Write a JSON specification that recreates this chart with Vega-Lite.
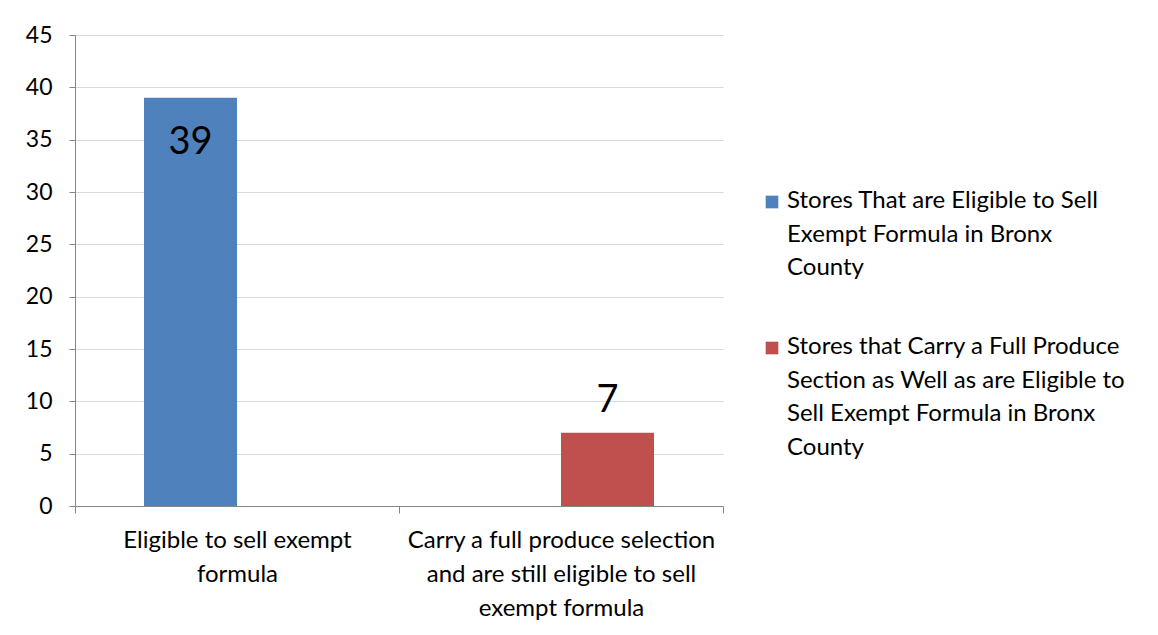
{
  "$schema": "https://vega.github.io/schema/vega-lite/v6.json",
  "width": 648,
  "height": 471,
  "autosize": {"type": "none"},
  "padding": {"left": 75, "top": 35, "right": 435, "bottom": 129},
  "background": "white",
  "config": {
    "font": "Lato",
    "view": {"stroke": null},
    "axis": {"labelFont": "Lato", "labelFontSize": 23, "labelColor": "#000000", "domainColor": "#868686", "tickColor": "#868686"},
    "legend": {"labelFont": "Lato", "labelFontSize": 24, "labelColor": "#000000"}
  },
  "data": {
    "values": [
      {"category": "Eligible to sell exempt formula", "series": "Stores That are Eligible to Sell Exempt Formula in Bronx County", "value": 39},
      {"category": "Carry a full produce selection and are still eligible to sell exempt formula", "series": "Stores that Carry a Full Produce Section as Well as are Eligible to Sell Exempt Formula in Bronx County", "value": 7}
    ]
  },
  "encoding": {
    "x": {
      "field": "category",
      "type": "nominal",
      "sort": null,
      "scale": {"paddingInner": 0, "paddingOuter": 0},
      "axis": {
        "title": null,
        "labelAngle": 0,
        "tickBand": "extent",
        "tickSize": 7,
        "labelPadding": 15,
        "labelBaseline": "top",
        "labelLineHeight": 34,
        "labelFontSize": 24,
        "labelLimit": 0,
        "labelExpr": "datum.extra ? '' : datum.label == 'Eligible to sell exempt formula' ? ['Eligible to sell exempt', 'formula'] : ['Carry a full produce selection', 'and are still eligible to sell', 'exempt formula']"
      }
    },
    "xOffset": {
      "field": "series",
      "type": "nominal",
      "scale": {
        "domain": ["Stores That are Eligible to Sell Exempt Formula in Bronx County", "Stores that Carry a Full Produce Section as Well as are Eligible to Sell Exempt Formula in Bronx County"],
        "paddingInner": 0,
        "paddingOuter": 0.742
      }
    },
    "y": {
      "field": "value",
      "type": "quantitative",
      "scale": {"domain": [0, 45]},
      "axis": {
        "title": null,
        "values": [0, 5, 10, 15, 20, 25, 30, 35, 40, 45],
        "gridColor": "#d9d9d9",
        "tickSize": 6,
        "labelPadding": 17
      }
    }
  },
  "layer": [
    {
      "mark": {"type": "bar"},
      "encoding": {
        "color": {
          "field": "series",
          "type": "nominal",
          "scale": {
            "domain": ["Stores That are Eligible to Sell Exempt Formula in Bronx County", "Stores that Carry a Full Produce Section as Well as are Eligible to Sell Exempt Formula in Bronx County"],
            "range": ["#4f81bd", "#c0504d"]
          },
          "legend": {
            "title": null,
            "orient": "none",
            "legendX": 685,
            "legendY": 155,
            "symbolType": "square",
            "symbolSize": 160,
            "symbolStrokeWidth": 0,
            "labelOffset": 3,
            "labelLimit": 0,
            "rowPadding": 55,
            "labelBaseline": "top",
            "labelExpr": "datum.label == 'Stores That are Eligible to Sell Exempt Formula in Bronx County' ? ['Stores That are Eligible to Sell', 'Exempt Formula in Bronx', 'County'] : ['Stores that Carry a Full Produce', 'Section as Well as are Eligible to', 'Sell Exempt Formula in Bronx', 'County']",
            "encode": {"labels": {"update": {"lineHeight": {"value": 33.5}, "dy": {"value": -13}}}}
          }
        }
      }
    },
    {
      "transform": [{"filter": "datum.value > 20"}],
      "mark": {"type": "text", "fontSize": 38, "dy": 45, "color": "#000000"},
      "encoding": {"text": {"field": "value", "type": "quantitative"}}
    },
    {
      "transform": [{"filter": "datum.value <= 20"}],
      "mark": {"type": "text", "fontSize": 38, "dy": -32, "color": "#000000"},
      "encoding": {"text": {"field": "value", "type": "quantitative"}}
    }
  ]
}
